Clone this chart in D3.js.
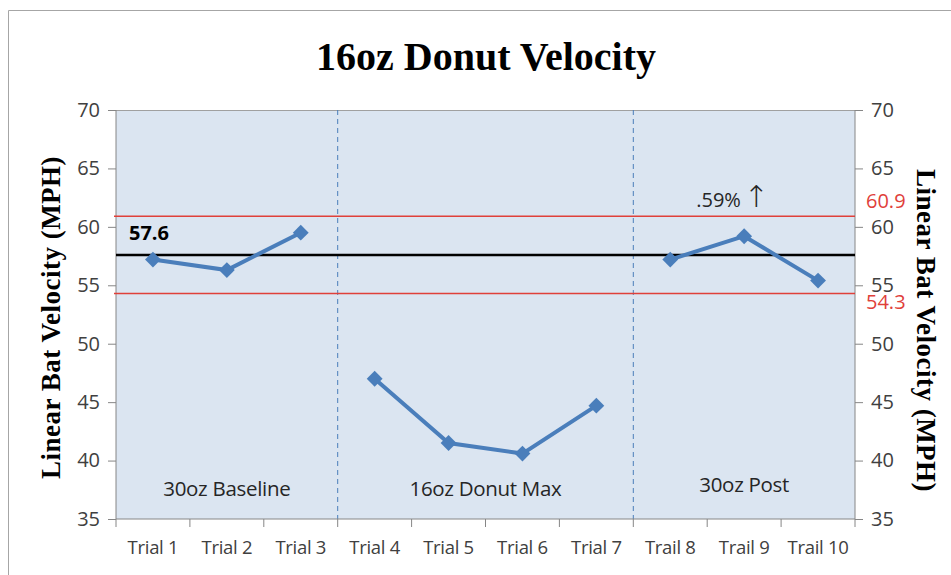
<!DOCTYPE html>
<meta charset="utf-8">
<style>
body { margin: 0; background: #fff; }
svg text { font-family: "Open Sans", "Noto Sans", sans-serif; }
.tick text { font-size: 20px; fill: #404040; }
.title { font: bold 40px "Liberation Serif", "DejaVu Serif", serif; }
.ytitle { font: bold 27px "Liberation Serif", "DejaVu Serif", serif; letter-spacing: 0.5px; }
</style>
<body>
<script src="https://d3js.org/d3.v7.min.js"></script>
<script>
// chart data
var trials = ["Trial 1", "Trial 2", "Trial 3", "Trial 4", "Trial 5", "Trial 6", "Trial 7", "Trail 8", "Trail 9", "Trail 10"];
var velocity = [57.2, 56.3, 59.5, 47.0, 41.5, 40.6, 44.7, 57.2, 59.2, 55.4];
var phases = ["30oz Baseline", "16oz Donut Max", "30oz Post"];
var phaseStart = [0, 3, 7];   // first trial index of each phase
var yTicks = [35, 40, 45, 50, 55, 60, 65, 70];
var mean = 57.6, upper = 60.9, lower = 54.3;

var W = 951, H = 575;
var margin = {top: 110, right: 96, bottom: 56, left: 116};
var width = 855 - margin.left, height = 519 - margin.top;

var svg = d3.select("body").append("svg")
    .attr("width", W).attr("height", H);

// outer chart border (only top & left visible)
svg.append("path")
    .attr("d", "M8.5," + H + "V10.5H" + W)
    .attr("fill", "none").attr("stroke", "#a6a6a6");

svg.append("text").attr("class", "title")
    .attr("x", 486).attr("y", 70).attr("text-anchor", "middle")
    .text("16oz Donut Velocity");

var g = svg.append("g")
    .attr("transform", "translate(" + margin.left + "," + margin.top + ")");

var x = d3.scaleBand().domain(trials).range([0, width]);
var y = d3.scaleLinear().domain([35, 70]).range([height, 0]);

g.append("rect").attr("width", width).attr("height", height)
    .attr("fill", "#dbe5f1");
g.append("line").attr("x1", 0).attr("x2", width).attr("y1", 0.5).attr("y2", 0.5)
    .attr("stroke", "#a0a0a0");

// phase dividers
g.selectAll(".div").data(phaseStart.slice(1)).join("line")
    .attr("x1", function(d) { return x(trials[d]); })
    .attr("x2", function(d) { return x(trials[d]); })
    .attr("y1", 0).attr("y2", height)
    .attr("stroke", "#4a7ebb").attr("stroke-dasharray", "5,4");

// axes
var yl = g.append("g").call(d3.axisLeft(y).tickValues(yTicks).tickSize(8).tickPadding(8));
var yr = g.append("g").attr("transform", "translate(" + width + ",0)")
    .call(d3.axisRight(y).tickValues(yTicks).tickSize(8).tickPadding(8));
var xa = g.append("g").attr("transform", "translate(0," + height + ")")
    .call(d3.axisBottom(x).tickSize(0).tickPadding(22));
[yl, yr, xa].forEach(function(a) {
  a.selectAll("path,line").attr("stroke", "#868686");
  a.selectAll("text").attr("fill", "#404040");
});
yl.select(".domain").attr("d", "M0,0V" + height);
yr.select(".domain").attr("d", "M0,0V" + height);
xa.select(".domain").attr("d", "M0,0H" + width);
xa.selectAll(".tick text").style("font-size", "18.5px").attr("letter-spacing", "-0.3px");
// category boundary ticks
g.selectAll(".xb").data(d3.range(trials.length + 1)).join("line")
    .attr("x1", function(i) { return i * x.bandwidth(); })
    .attr("x2", function(i) { return i * x.bandwidth(); })
    .attr("y1", height).attr("y2", height + 8)
    .attr("stroke", "#868686");

// control lines
[upper, lower].forEach(function(v) {
  g.append("line").attr("x1", -2).attr("x2", width)
      .attr("y1", y(v)).attr("y2", y(v))
      .attr("stroke", "#e0403a").attr("stroke-width", 1.5);
});
g.append("line").attr("x1", 0).attr("x2", width)
    .attr("y1", y(mean)).attr("y2", y(mean))
    .attr("stroke", "#000").attr("stroke-width", 2.5);

// series, one segment per phase
var line = d3.line()
    .x(function(d) { return x(trials[d]) + x.bandwidth() / 2; })
    .y(function(d) { return y(velocity[d]); });
phaseStart.forEach(function(s, k) {
  var e = k + 1 < phaseStart.length ? phaseStart[k + 1] : trials.length;
  g.append("path").datum(d3.range(s, e))
      .attr("d", line).attr("fill", "none")
      .attr("stroke", "#4a7ebb").attr("stroke-width", 4);
});
g.selectAll(".pt").data(d3.range(trials.length)).join("path")
    .attr("d", d3.symbol(d3.symbolDiamond2, 160))
    .attr("transform", function(d) {
      return "translate(" + (x(trials[d]) + x.bandwidth() / 2) + "," + y(velocity[d]) + ")";
    })
    .attr("fill", "#4a7ebb");

// phase labels
phaseStart.forEach(function(s, k) {
  var e = k + 1 < phaseStart.length ? phaseStart[k + 1] : trials.length;
  var cx = (x(trials[s]) + (x(trials[e - 1]) + x.bandwidth())) / 2;
  g.append("text").attr("x", cx).attr("y", y(k == 2 ? 37.3 : 37))
      .attr("text-anchor", "middle").attr("font-size", 20.5).attr("fill", "#262626")
      .attr("letter-spacing", "-0.3px")
      .text(phases[k]);
});

// annotations
g.append("text").attr("x", 13).attr("y", y(58.9))
    .attr("font-size", 20).attr("font-weight", "bold").attr("fill", "#000")
    .text(mean.toFixed(1));
var pct = g.append("text").attr("x", x("Trail 9") - 11).attr("y", y(61.7))
    .attr("font-size", 20).attr("fill", "#262626");
pct.append("tspan").text(".59%");
pct.append("tspan").attr("dx", 3).attr("font-size", 30).attr("font-weight", 300)
    .attr("font-family", "DejaVu Sans").text("\u2191");
g.append("text").attr("x", width + 11).attr("y", y(61.6))
    .attr("font-size", 20).attr("fill", "#e0403a").text(upper.toFixed(1));
g.append("text").attr("x", width + 11).attr("y", y(53.0))
    .attr("font-size", 20).attr("fill", "#e0403a").text(lower.toFixed(1));

// axis titles
svg.append("text").attr("class", "ytitle")
    .attr("transform", "translate(60," + (margin.top + height / 2 + 3) + ") rotate(-90)")
    .attr("text-anchor", "middle").text("Linear Bat Velocity (MPH)");
svg.append("text").attr("class", "ytitle")
    .attr("transform", "translate(917," + (margin.top + height / 2 + 16) + ") rotate(90)")
    .attr("text-anchor", "middle").text("Linear Bat Velocity (MPH)");
</script>
</body>
